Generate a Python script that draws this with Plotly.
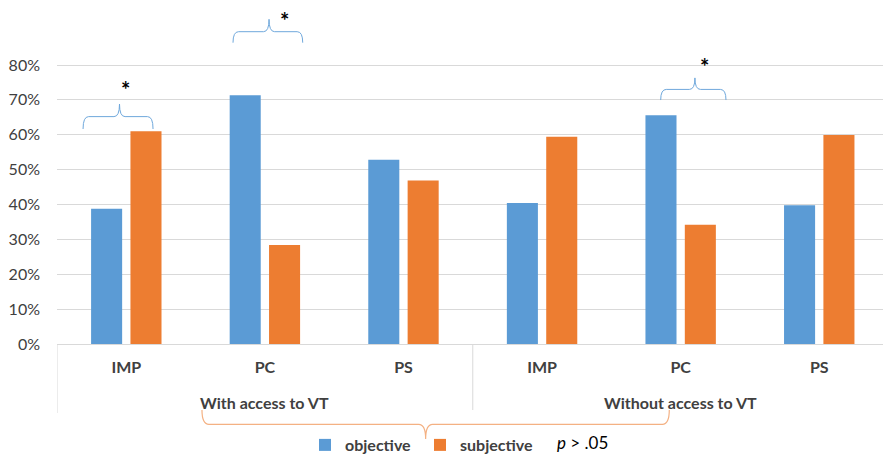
import plotly.graph_objects as go

group_labels = ["With access to VT", "Without access to VT"]
measures = ["IMP", "PC", "PS", "IMP", "PC", "PS"]
objective = [0.388, 0.713, 0.528, 0.404, 0.656, 0.398]
subjective = [0.610, 0.284, 0.469, 0.594, 0.342, 0.599]
y_ticks = [0, 0.1, 0.2, 0.3, 0.4, 0.5, 0.6, 0.7, 0.8]

BLUE = "#5B9BD5"
ORANGE = "#ED7D31"
FONT = "Lato"
TXT = "#404040"

xpos = list(range(len(measures)))

fig = go.Figure()
fig.add_trace(go.Bar(x=xpos, y=objective, name="objective",
                     marker=dict(color=BLUE, line=dict(width=0))))
fig.add_trace(go.Bar(x=xpos, y=subjective, name="subjective",
                     marker=dict(color=ORANGE, line=dict(width=0))))


def brace_up(x0, x1, xm, yb, yh, yt, r=0.04):
    return (f"M {x0},{yb} Q {x0},{yh} {x0 + r},{yh} L {xm - r},{yh} "
            f"Q {xm},{yh} {xm},{yt} Q {xm},{yh} {xm + r},{yh} "
            f"L {x1 - r},{yh} Q {x1},{yh} {x1},{yb}")


shapes = []
# significance braces above bars (data coords)
for (x0, x1, xm, yb, yh, yt) in [
    (-0.312, 0.193, -0.049, 0.6165, 0.652, 0.688),
    (0.770, 1.273, 1.030, 0.864, 0.8955, 0.931),
    (3.856, 4.327, 4.103, 0.6996, 0.730, 0.763),
]:
    shapes.append(dict(type="path", xref="x", yref="y", path=brace_up(x0, x1, xm, yb, yh, yt),
                       line=dict(color="#6FA8DC", width=1)))
# big orange brace below the axis
shapes.append(dict(type="path", xref="x", yref="paper",
                   path=brace_up(0.546, 3.918, 2.160, -0.1919, -0.2334, -0.2762, r=0.05),
                   line=dict(color="#F4B183", width=1.2)))
# group divider lines
for xd, yend in [(-0.5, -0.2006), (2.5, -0.1919)]:
    shapes.append(dict(type="line", xref="x", yref="paper", x0=xd, x1=xd, y0=0, y1=yend,
                       line=dict(color="#d9d9d9", width=1)))

annotations = []
for (x, y) in [(-0.009, 0.729), (1.145, 0.927), (4.175, 0.795)]:
    annotations.append(dict(x=x, y=y, xref="x", yref="y", text="<b>*</b>", showarrow=False,
                            font=dict(family=FONT, size=22, color="#000000")))
for gx, label in zip([1, 4], group_labels):
    annotations.append(dict(x=gx, y=-0.1715, xref="x", yref="paper", yanchor="middle",
                            text=f"<b>{label}</b>", showarrow=False,
                            font=dict(family=FONT, size=16, color=TXT)))
annotations.append(dict(x=3.295, y=-0.285, xref="x", yref="paper", yanchor="middle",
                        text="<i>p</i> > .05", showarrow=False,
                        font=dict(family=FONT, size=17, color="#000000")))

fig.update_layout(
    width=883, height=455,
    margin=dict(l=57, r=0, t=0, b=111, autoexpand=False),
    plot_bgcolor="white", paper_bgcolor="white",
    barmode="group", bargap=0.432, bargroupgap=0.211,
    font=dict(family=FONT, color=TXT),
    xaxis=dict(range=[-0.5, 5.46], tickvals=xpos, ticktext=measures, showgrid=False,
               zeroline=False, showline=True, linecolor="#d9d9d9", linewidth=1,
               ticks="", ticklabelstandoff=9,
               tickfont=dict(family=FONT, size=16, color=TXT, weight="bold")),
    yaxis=dict(range=[0, 0.9864], tickvals=y_ticks, tickformat=".0%",
               showgrid=True, gridcolor="#d9d9d9", gridwidth=1, zeroline=False,
               showline=False, ticks="", ticklabelstandoff=16,
               tickfont=dict(family=FONT, size=16, color=TXT)),
    showlegend=True,
    legend=dict(orientation="h", xref="container", yref="container",
                x=305 / 883, y=0.022, xanchor="left", yanchor="middle",
                bgcolor="rgba(0,0,0,0)",
                font=dict(family=FONT, size=16, color=TXT, weight="bold"),
                itemwidth=30, entrywidth=70, traceorder="normal"),
    shapes=shapes, annotations=annotations,
)

fig.write_html("out.html", config={"displayModeBar": False},
               post_script="document.body.style.margin='0';")
